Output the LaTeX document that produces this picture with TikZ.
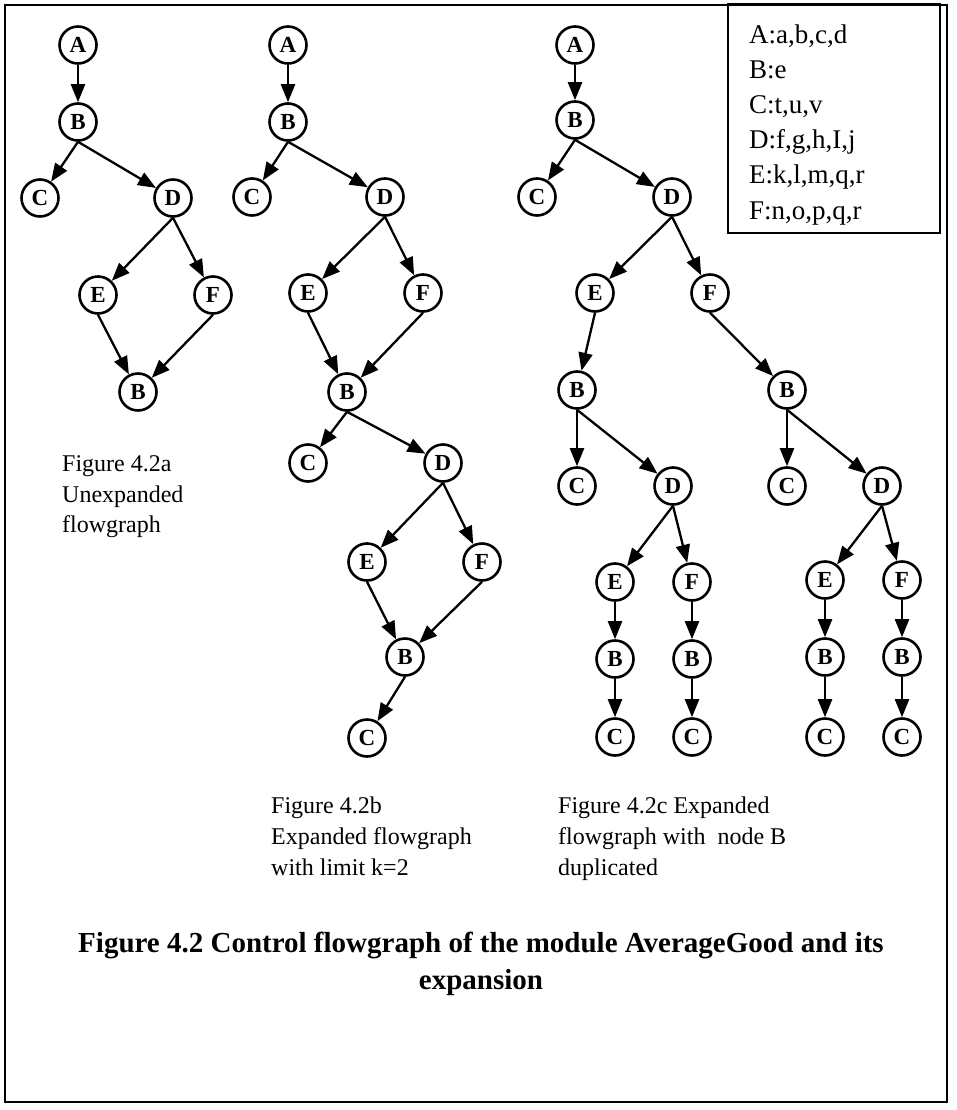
\documentclass[tikz,border=0pt]{standalone}
\usepackage{fontspec}
\setmainfont{Liberation Serif}
\usetikzlibrary{arrows.meta}
\begin{document}
\begin{tikzpicture}[x=1pt,y=-1pt,
  vtx/.style={circle,draw,line width=2.6pt,minimum size=37pt,inner sep=0pt,
    font=\fontsize{23}{23}\selectfont\bfseries},
  edge/.style={line width=2.3pt,-{Triangle[length=18pt,width=14pt]}},
  subcap/.style={anchor=base west,inner sep=0pt,font=\fontsize{24}{24}\selectfont},
  legend/.style={anchor=base west,inner sep=0pt,font=\fontsize{27}{27}\selectfont},
  title/.style={anchor=base,inner sep=0pt,font=\fontsize{29}{29}\selectfont\bfseries}]
\useasboundingbox (0,0) rectangle (956,1110);
% outer frame and legend box
\draw[line width=2pt] (5,5) rectangle (947,1102);
\draw[line width=2pt] (728,4) rectangle (940,233);
\node[legend] (l1) at (749,44) {A:a,b,c,d};
\node[legend] (l2) at (749,79) {B:e};
\node[legend] (l3) at (749,114) {C:t,u,v};
\node[legend] (l4) at (749,149) {D:f,g,h,I,j};
\node[legend] (l5) at (749,184) {E:k,l,m,q,r};
\node[legend] (l6) at (749,219) {F:n,o,p,q,r};

% (a) unexpanded flowgraph
\node[vtx] (aA) at (78,45) {A};
\node[vtx] (aB) at (78,122) {B};
\node[vtx] (aC) at (40,198) {C};
\node[vtx] (aD) at (173,198) {D};
\node[vtx] (aE) at (98,295) {E};
\node[vtx] (aF) at (213,295) {F};
\node[vtx] (aB2) at (138,392) {B};
\draw[edge] (aA) -- (aB);
\draw[edge] (aB.south) -- (aC);
\draw[edge] (aB.south) -- (aD);
\draw[edge] (aD.south) -- (aE);
\draw[edge] (aD.south) -- (aF);
\draw[edge] (aE.south) -- (aB2);
\draw[edge] (aF.south) -- (aB2);

% (b) expanded with limit k=2
\node[vtx] (bA) at (288,45) {A};
\node[vtx] (bB) at (288,122) {B};
\node[vtx] (bC) at (252,197) {C};
\node[vtx] (bD) at (385,197) {D};
\node[vtx] (bE) at (308,293) {E};
\node[vtx] (bF) at (423,293) {F};
\node[vtx] (bB2) at (347,392) {B};
\node[vtx] (bC2) at (308,463) {C};
\node[vtx] (bD2) at (443,463) {D};
\node[vtx] (bE2) at (367,562) {E};
\node[vtx] (bF2) at (482,562) {F};
\node[vtx] (bB3) at (405,657) {B};
\node[vtx] (bC3) at (367,738) {C};
\draw[edge] (bA) -- (bB);
\draw[edge] (bB.south) -- (bC);
\draw[edge] (bB.south) -- (bD);
\draw[edge] (bD.south) -- (bE);
\draw[edge] (bD.south) -- (bF);
\draw[edge] (bE.south) -- (bB2);
\draw[edge] (bF.south) -- (bB2);
\draw[edge] (bB2.south) -- (bC2);
\draw[edge] (bB2.south) -- (bD2);
\draw[edge] (bD2.south) -- (bE2);
\draw[edge] (bD2.south) -- (bF2);
\draw[edge] (bE2.south) -- (bB3);
\draw[edge] (bF2.south) -- (bB3);
\draw[edge] (bB3.south) -- (bC3);

% (c) expanded with node B duplicated
\node[vtx] (cA) at (575,45) {A};
\node[vtx] (cB) at (575,120) {B};
\node[vtx] (cC) at (537,197) {C};
\node[vtx] (cD) at (672,197) {D};
\node[vtx] (cE) at (595,293) {E};
\node[vtx] (cF) at (710,293) {F};
\node[vtx] (cBl) at (577,390) {B};
\node[vtx] (cBr) at (787,390) {B};
\draw[edge] (cA) -- (cB);
\draw[edge] (cB.south) -- (cC);
\draw[edge] (cB.south) -- (cD);
\draw[edge] (cD.south) -- (cE);
\draw[edge] (cD.south) -- (cF);
\draw[edge] (cE.south) -- (cBl);
\draw[edge] (cF.south) -- (cBr);
% left branch
\node[vtx] (lC) at (577,486) {C};
\node[vtx] (lD) at (673,486) {D};
\node[vtx] (lE) at (615,582) {E};
\node[vtx] (lF) at (692,582) {F};
\node[vtx] (lEB) at (615,659) {B};
\node[vtx] (lFB) at (692,659) {B};
\node[vtx] (lEC) at (615,737) {C};
\node[vtx] (lFC) at (692,737) {C};
\draw[edge] (cBl.south) -- (lC);
\draw[edge] (cBl.south) -- (lD);
\draw[edge] (lD.south) -- (lE);
\draw[edge] (lD.south) -- (lF);
\draw[edge] (lE) -- (lEB);
\draw[edge] (lF) -- (lFB);
\draw[edge] (lEB) -- (lEC);
\draw[edge] (lFB) -- (lFC);
% right branch
\node[vtx] (rC) at (787,486) {C};
\node[vtx] (rD) at (882,486) {D};
\node[vtx] (rE) at (825,580) {E};
\node[vtx] (rF) at (902,580) {F};
\node[vtx] (rEB) at (825,657) {B};
\node[vtx] (rFB) at (902,657) {B};
\node[vtx] (rEC) at (825,737) {C};
\node[vtx] (rFC) at (902,737) {C};
\draw[edge] (cBr.south) -- (rC);
\draw[edge] (cBr.south) -- (rD);
\draw[edge] (rD.south) -- (rE);
\draw[edge] (rD.south) -- (rF);
\draw[edge] (rE) -- (rEB);
\draw[edge] (rF) -- (rFB);
\draw[edge] (rEB) -- (rEC);
\draw[edge] (rFB) -- (rFC);

% sub-figure captions
\node[subcap] (ta1) at (62,471) {Figure 4.2a};
\node[subcap] (ta2) at (62,502) {Unexpanded};
\node[subcap] (ta3) at (62,532) {flowgraph};
\node[subcap] (tb1) at (271,813) {Figure 4.2b};
\node[subcap] (tb2) at (271,844) {Expanded flowgraph};
\node[subcap] (tb3) at (271,875) {with limit k=2};
\node[subcap] (tc1) at (558,813) {Figure 4.2c Expanded};
\node[subcap] (tc2) at (558,844) {flowgraph with\ \ node B};
\node[subcap] (tc3) at (558,875) {duplicated};

% main caption
\node[title] (t1) at (481,952) {Figure 4.2 Control flowgraph of the module AverageGood and its};
\node[title] (t2) at (481,989) {expansion};
\end{tikzpicture}
\end{document}
